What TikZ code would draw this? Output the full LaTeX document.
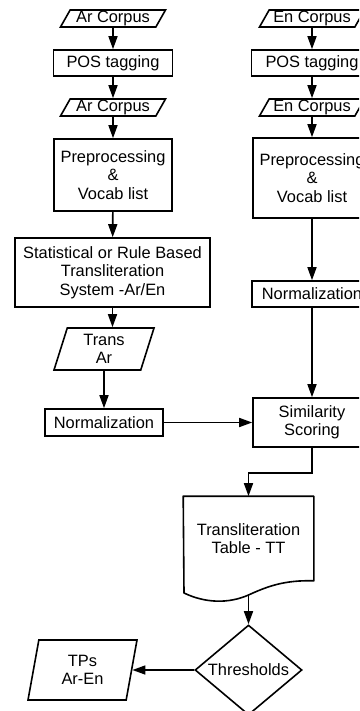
\documentclass[tikz,border=0pt]{standalone}
\usepackage{fontspec}
\setmainfont{Liberation Sans}
\usetikzlibrary{arrows.meta,shapes.geometric}
\begin{document}
\begin{tikzpicture}[x=1pt,y=-1pt,
    every node/.style={font=\fontsize{16.4}{18.5}\selectfont, align=center, inner sep=0pt, line width=1.6pt},
    box/.style={draw, rectangle, minimum width=118pt},
    io/.style={draw, trapezium, trapezium left angle=57, trapezium right angle=123,
      trapezium stretches body, minimum height=17pt, minimum width=105pt},
    arr/.style={line width=1.6pt, -{Triangle[length=13pt,width=9pt]}}]
      \useasboundingbox (0,0) rectangle (359,711);
      \clip (0,0) rectangle (359,711);
      % Arabic side
      \node[io] (arin) at (113,18.5) {Ar Corpus};
      \node[box, minimum height=26pt, minimum width=119pt] (arpos) at (113,63) {POS tagging};
      \node[io] (arout) at (113,107.5) {Ar Corpus};
      \node[box, minimum height=72pt] (arpre) at (113,175) {Preprocessing\\\&\\Vocab list};
      \node[box, minimum height=69pt, minimum width=195pt] (stat) at (112.5,272.5)
        {Statistical or Rule Based\\Transliteration\\System -Ar/En};
      \node[io, trapezium left angle=66, trapezium right angle=114, minimum height=42pt,
        minimum width=100pt] (trans) at (104,349) {Trans\\Ar};
      \node[box, minimum height=27pt] (arnorm) at (104,422.5) {Normalization};
      % English side
      \node[io] (enin) at (312,18.5) {En Corpus};
      \node[box, minimum height=26pt, minimum width=121pt] (enpos) at (312,63) {POS tagging};
      \node[io] (enout) at (312,107.5) {En Corpus};
      \node[box, minimum height=80pt] (enpre) at (312,178) {Preprocessing\\\&\\Vocab list};
      \node[box, minimum height=26pt, minimum width=120pt] (ennorm) at (312,294) {Normalization};
      \node[box, minimum height=49pt] (sim) at (312,422.5) {Similarity\\Scoring};
      % table and output
      \node[minimum width=129pt, minimum height=83pt] (tt) at (248.5,538.5) {Transliteration\\Table - TT};
      \draw[line width=1.6pt, line join=round] (184,593) -- (tt.north west) -- (tt.north east) -- (tt.south east)
        .. controls (285,580) and (268,586) .. (248.5,595)
        .. controls (228,604) and (205,603) .. (184,593) -- cycle;
      \coordinate (ttb) at (248.5,595);
      \node[draw, diamond, aspect=1.2, minimum width=107pt, minimum height=90pt] (thr) at (248.5,670) {Thresholds};
      \node[io, trapezium left angle=70, trapezium right angle=110, minimum height=60pt,
        minimum width=109pt] (tps) at (82.5,670) {TPs\\Ar-En};

      \draw[arr] (arin) -- (arpos);
      \draw[arr] (arpos) -- (arout);
      \draw[arr] (arout) -- (arpre);
      \draw[arr] (arpre) -- (stat);
      \draw[arr] (stat.south) -- (stat.south |- trans.north);
      \draw[arr] (trans) -- (arnorm);
      \draw[arr] (arnorm) -- (sim);
      \draw[arr] (enin) -- (enpos);
      \draw[arr] (enpos) -- (enout);
      \draw[arr] (enout) -- (enpre);
      \draw[arr] (enpre) -- (ennorm);
      \draw[arr] (ennorm) -- (sim);
      \draw[arr] (sim.south) -- ++(0,25) -| (tt.north);
      \draw[arr] (ttb) -- (thr);
      \draw[arr] (thr) -- (tps);
    \end{tikzpicture}
\end{document}
